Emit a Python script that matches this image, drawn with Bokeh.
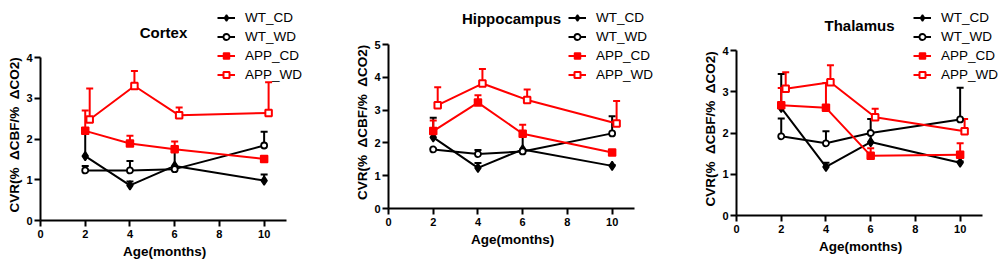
from bokeh.plotting import figure
from bokeh.layouts import row
from bokeh.models import (ColumnDataSource, Whisker, TeeHead, Legend, LegendItem,
                          Range1d, FixedTicker, Label, Title)
from bokeh.embed import file_html
from bokeh.resources import INLINE

# ---------------- data ----------------
ages = [2, 4, 6, 10]
ages_app_wd = [2.2, 4.2, 6.2, 10.2]   # plotted slightly dodged, as in the original
series_names = ["WT_CD", "WT_WD", "APP_CD", "APP_WD"]
x_ticks = [0, 2, 4, 6, 8, 10]
y_label = "CVR(% \u00a0\u0394CBF/% \u00a0\u0394CO2)"
x_label = "Age(months)"

cortex_wt_cd = [1.58, 0.86, 1.34, 0.98]
cortex_wt_cd_err = [0.60, 0.10, 0.42, 0.15]
cortex_wt_wd = [1.23, 1.23, 1.26, 1.84]
cortex_wt_wd_err = [0.11, 0.23, 0.05, 0.34]
cortex_app_cd = [2.20, 1.89, 1.75, 1.51]
cortex_app_cd_err = [0.50, 0.19, 0.19, 0.03]
cortex_app_wd = [2.48, 3.30, 2.58, 2.64]
cortex_app_wd_err = [0.76, 0.37, 0.19, 0.75]

hippo_wt_cd = [2.17, 1.24, 1.80, 1.30]
hippo_wt_cd_err = [0.60, 0.15, 0.46, 0.03]
hippo_wt_wd = [1.80, 1.66, 1.74, 2.29]
hippo_wt_wd_err = [0.02, 0.12, 0.02, 0.52]
hippo_app_cd = [2.36, 3.23, 2.28, 1.71]
hippo_app_cd_err = [0.32, 0.22, 0.27, 0.03]
hippo_app_wd = [3.15, 3.81, 3.31, 2.59]
hippo_app_wd_err = [0.55, 0.44, 0.32, 0.69]

thal_wt_cd = [2.61, 1.18, 1.78, 1.28]
thal_wt_cd_err = [0.82, 0.10, 0.20, 0.03]
thal_wt_wd = [1.92, 1.75, 2.00, 2.33]
thal_wt_wd_err = [0.43, 0.29, 0.34, 0.77]
thal_app_cd = [2.67, 2.61, 1.45, 1.47]
thal_app_cd_err = [0.42, 0.60, 0.18, 0.28]
thal_app_wd = [3.07, 3.23, 2.38, 2.04]
thal_app_wd_err = [0.40, 0.41, 0.21, 0.30]

FONT = "Liberation Sans"
BLACK = "#000000"
RED = "#ff0000"
PW, PH = 336, 272
XMAX = 11
XLABEL_W = 81     # approximate rendered length of the axis titles (px)
YLABEL_W = 147


def make_panel(title, ymax, values, errs, left, axis_top, axis_bottom, title_py,
               legend_x, legend_top):
    axis_w = 246                      # pixels covered by x = 0..11
    fw = PW - left                    # frame extends to the right edge
    fh = axis_bottom                  # frame extends to the top edge
    ppu_y = (axis_bottom - axis_top) / ymax
    ppu_x = axis_w / XMAX
    p = figure(width=PW, height=PH, frame_width=fw, frame_height=fh,
               min_border_left=left, min_border_right=0,
               min_border_top=0, min_border_bottom=PH - fh,
               x_range=Range1d(0, fw / ppu_x), y_range=Range1d(0, fh / ppu_y),
               title=None, output_backend="svg", toolbar_location=None)
    p.outline_line_color = None
    p.grid.visible = False

    for ax in (p.xaxis[0], p.yaxis[0]):
        ax.axis_line_width = 2
        ax.axis_line_color = BLACK
        ax.major_tick_line_width = 2
        ax.major_tick_line_color = BLACK
        ax.major_tick_out = 6
        ax.major_tick_in = 0
        ax.minor_tick_line_color = None
        ax.major_label_text_font = FONT
        ax.major_label_text_font_size = "11px"
        ax.major_label_text_font_style = "bold"
        ax.major_label_text_color = BLACK
    p.xaxis[0].bounds = (0, XMAX)
    p.yaxis[0].bounds = (0, ymax)
    p.xaxis[0].ticker = FixedTicker(ticks=x_ticks)
    p.yaxis[0].ticker = FixedTicker(ticks=list(range(0, ymax + 1)))
    p.xaxis[0].major_label_standoff = 3
    p.yaxis[0].major_label_standoff = 2

    # axis titles, centred on the drawn axis lines rather than on the frame
    xt = Title(text=x_label, align="left", offset=axis_w / 2 - XLABEL_W / 2,
               text_font=FONT, text_font_size="13.5px", text_font_style="bold",
               text_color=BLACK, standoff=3)
    p.add_layout(xt, "below")
    yt = Title(text=y_label, align="left",
               offset=(axis_bottom - axis_top) / 2 - YLABEL_W / 2,
               text_font=FONT, text_font_size="13.5px", text_font_style="bold",
               text_color=BLACK, standoff=4)
    p.add_layout(yt, "left")

    p.add_layout(Label(x=XMAX / 2, y=(axis_bottom - title_py) / ppu_y, text=title,
                       text_align="center", text_baseline="middle",
                       text_font=FONT, text_font_size="15px", text_font_style="bold",
                       text_color=BLACK))

    styles = [
        dict(color=BLACK, marker="diamond", size=9, fill=BLACK, lw=1.5, xs=ages),
        dict(color=BLACK, marker="circle", size=6, fill="white", lw=1.8, xs=ages),
        dict(color=RED, marker="square", size=7, fill=RED, lw=1.5, xs=ages),
        dict(color=RED, marker="square", size=6.5, fill="white", lw=2, xs=ages_app_wd),
    ]
    items = []
    for name, st, vals, er in zip(series_names, styles, values, errs):
        src = ColumnDataSource(dict(x=st["xs"], y=vals,
                                    up=[v + e for v, e in zip(vals, er)]))
        w = Whisker(base="x", lower="y", upper="up", source=src,
                    line_color=st["color"], line_width=2,
                    upper_head=TeeHead(size=7, line_color=st["color"], line_width=2),
                    lower_head=None)
        p.add_layout(w)
        ln = p.line("x", "y", source=src, line_color=st["color"], line_width=2)
        sc = p.scatter("x", "y", source=src, marker=st["marker"], size=st["size"],
                       fill_color=st["fill"], line_color=st["color"],
                       line_width=st["lw"])
        items.append(LegendItem(label=name, renderers=[ln, sc]))

    row_h, gap = 15, 4
    leg_h = 4 * row_h + 3 * gap
    leg = Legend(items=items, location=(legend_x, axis_bottom - legend_top - leg_h))
    leg.label_text_font = FONT
    leg.label_text_font_size = "13.5px"
    leg.label_text_color = BLACK
    leg.border_line_color = None
    leg.background_fill_alpha = 0
    leg.padding = 0
    leg.margin = 0
    leg.spacing = gap
    leg.glyph_width = 18
    leg.glyph_height = row_h
    leg.label_height = row_h
    leg.label_standoff = 10
    p.add_layout(leg)
    return p


p1 = make_panel("Cortex", 4,
                [cortex_wt_cd, cortex_wt_wd, cortex_app_cd, cortex_app_wd],
                [cortex_wt_cd_err, cortex_wt_wd_err, cortex_app_cd_err, cortex_app_wd_err],
                left=40, axis_top=57, axis_bottom=220, title_py=32,
                legend_x=177, legend_top=9.5)
p2 = make_panel("Hippocampus", 5,
                [hippo_wt_cd, hippo_wt_wd, hippo_app_cd, hippo_app_wd],
                [hippo_wt_cd_err, hippo_wt_wd_err, hippo_app_cd_err, hippo_app_wd_err],
                left=52, axis_top=44, axis_bottom=208, title_py=18,
                legend_x=180, legend_top=9.5)
p3 = make_panel("Thalamus", 4,
                [thal_wt_cd, thal_wt_wd, thal_app_cd, thal_app_wd],
                [thal_wt_cd_err, thal_wt_wd_err, thal_app_cd_err, thal_app_wd_err],
                left=64, axis_top=50, axis_bottom=215, title_py=25,
                legend_x=177, legend_top=9.5)

layout = row(p1, p2, p3)
open("out.html", "w").write(file_html(layout, INLINE))
